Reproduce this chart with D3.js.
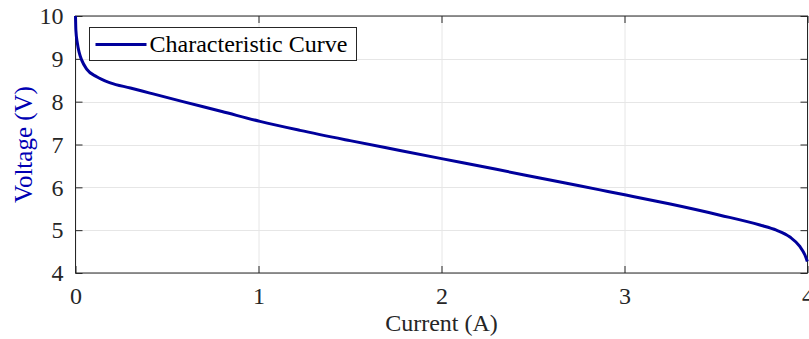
<!DOCTYPE html>
<html>
<head>
<meta charset="utf-8">
<script src="https://cdn.jsdelivr.net/npm/d3@7"></script>
<style>
  body { margin: 0; background: #fff; }
  svg text { font-family: "Liberation Serif", "Times New Roman", serif; }
</style>
</head>
<body>
<div id="chart"></div>
<script>
var width = 809;
var height = 339;

// characteristic curve
var current = [0, 0.002, 0.01, 0.02, 0.034, 0.061, 0.116, 0.19, 0.3, 0.407, 0.587, 0.8, 1.008, 1.227,
    1.5, 1.773, 2.0, 2.3, 2.593, 2.866, 3.008, 3.25, 3.522, 3.74, 3.83, 3.904, 3.958, 3.986, 3.999];
var voltage = [10, 9.67, 9.37, 9.15, 8.97, 8.76, 8.58, 8.44, 8.32, 8.2, 8.0, 7.77, 7.54, 7.33,
    7.09, 6.86, 6.67, 6.42, 6.17, 5.94, 5.82, 5.61, 5.35, 5.12, 5.0, 4.84, 4.62, 4.42, 4.27];

var xTicks = [0, 1, 2, 3, 4];
var yTicks = [4, 5, 6, 7, 8, 9, 10];
var legendLabel = "Characteristic Curve";
var xLabel = "Current (A)";
var yLabel = "Voltage (V)";

var margin = {top: 16, right: 1.5, bottom: 66, left: 75.5};
var iw = width - margin.left - margin.right;
var ih = height - margin.top - margin.bottom;

var svg = d3.select("#chart").append("svg")
    .attr("width", width)
    .attr("height", height);

var g = svg.append("g")
    .attr("transform", "translate(" + margin.left + "," + margin.top + ")");

var x = d3.scaleLinear().domain([0, 4]).range([0, iw]);
var y = d3.scaleLinear().domain([4, 10]).range([ih, 0]);

// grid
g.append("g").selectAll("line").data(xTicks).enter().append("line")
    .attr("x1", d => Math.round(x(d)) + 0.5).attr("x2", d => Math.round(x(d)) + 0.5)
    .attr("y1", 0).attr("y2", ih)
    .attr("stroke", "#e6e6e6");
g.append("g").selectAll("line").data(yTicks).enter().append("line")
    .attr("y1", d => Math.round(y(d)) + 0.5).attr("y2", d => Math.round(y(d)) + 0.5)
    .attr("x1", 0).attr("x2", iw)
    .attr("stroke", "#e6e6e6");

// axes, ticks inside
var axisColor = "#262626";
function styleAxis(sel) {
    sel.select(".domain").remove();
    sel.selectAll(".tick line").attr("stroke", axisColor);
    sel.selectAll(".tick text")
        .attr("fill", "#262626")
        .style("font-size", "24px")
        .style("font-family", "'Liberation Serif', serif");
}

g.append("g")
    .attr("transform", "translate(0," + ih + ")")
    .call(d3.axisBottom(x).tickValues(xTicks).tickSize(-7).tickPadding(14).tickFormat(d3.format("d")))
    .call(styleAxis);
g.append("g")
    .call(d3.axisTop(x).tickValues(xTicks).tickSize(-7).tickFormat(""))
    .call(styleAxis);
g.append("g")
    .call(d3.axisLeft(y).tickValues(yTicks).tickSize(-7).tickPadding(12).tickFormat(d3.format("d")))
    .call(styleAxis);
g.append("g")
    .attr("transform", "translate(" + iw + ",0)")
    .call(d3.axisRight(y).tickValues(yTicks).tickSize(-7).tickFormat(""))
    .call(styleAxis);

g.append("rect")
    .attr("x", 0).attr("y", 0)
    .attr("width", iw).attr("height", ih)
    .attr("fill", "none")
    .attr("stroke", axisColor);

// curve
var pts = current.map((c, i) => [c, voltage[i]]);
var line = d3.line()
    .x(d => x(d[0]))
    .y(d => y(d[1]))
    .curve(d3.curveMonotoneX);

g.append("path")
    .datum(pts)
    .attr("d", line)
    .attr("fill", "none")
    .attr("stroke", "#00009c")
    .attr("stroke-width", 3);

// legend
var lg = svg.append("g").attr("transform", "translate(89.5,27.5)");
lg.append("rect")
    .attr("width", 267).attr("height", 33)
    .attr("fill", "#fff")
    .attr("stroke", axisColor);
lg.append("line")
    .attr("x1", 6).attr("x2", 57)
    .attr("y1", 17).attr("y2", 17)
    .attr("stroke", "#00009c")
    .attr("stroke-width", 3);
lg.append("text")
    .attr("x", 60).attr("y", 24.5)
    .attr("fill", "#000")
    .style("font-size", "24px")
    .text(legendLabel);

// axis labels
svg.append("text")
    .attr("x", margin.left + iw / 2)
    .attr("y", 331)
    .attr("text-anchor", "middle")
    .attr("fill", "#262626")
    .style("font-size", "24px")
    .text(xLabel);

svg.append("text")
    .attr("transform", "translate(32," + (margin.top + ih / 2) + ") rotate(-90)")
    .attr("text-anchor", "middle")
    .attr("fill", "#0000b4")
    .style("font-size", "25px")
    .text(yLabel);
</script>
</body>
</html>
